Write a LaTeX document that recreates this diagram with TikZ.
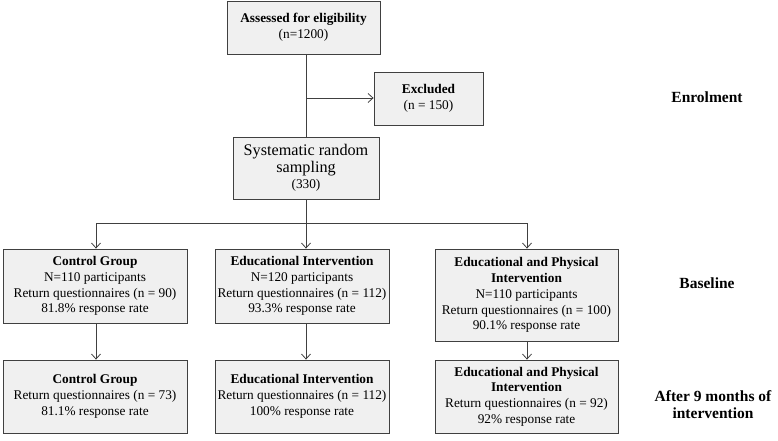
\documentclass[tikz,border=0pt]{standalone}
\usepackage{fontspec}
\setmainfont{Liberation Serif}
\usetikzlibrary{arrows.meta}
\begin{document}
\begin{tikzpicture}[x=1pt,y=-1pt,
  box/.style={draw=black!75, fill=black!6, line width=0.8pt, align=center, inner sep=1pt,
    font=\fontsize{13.3}{15.8}\selectfont},
  lbl/.style={align=center, font=\fontsize{15.5}{17}\selectfont\bfseries},
  ln/.style={draw=black!75, line width=0.8pt},
  arr/.style={ln, -{Straight Barb[length=5pt,width=9pt]}}]
\useasboundingbox (0,0) rectangle (778,441);
\node[box, minimum width=153pt, minimum height=53pt] (top) at (303.5,27.5)
  {\textbf{Assessed for eligibility}\\(n=1200)};
\node[box, minimum width=109pt, minimum height=53pt] (exc) at (428.5,98.5)
  {\textbf{Excluded}\\(n = 150)};
\node[box, minimum width=146pt, minimum height=62pt, font=\fontsize{16.2}{16.5}\selectfont] (sys) at (306,168)
  {Systematic random\\sampling\\\fontsize{13.3}{16}\selectfont(330)};
\node[box, minimum width=184pt, minimum height=74pt] (c1) at (95,286)
  {\textbf{Control Group}\\N=110 participants\\Return questionnaires (n = 90)\\81.8\% response rate};
\node[box, minimum width=174pt, minimum height=74pt] (e1) at (302,286)
  {\textbf{Educational Intervention}\\N=120 participants\\Return questionnaires (n = 112)\\93.3\% response rate};
\node[box, minimum width=183pt, minimum height=92pt] (p1) at (526.5,295)
  {\textbf{Educational and Physical}\\\textbf{Intervention}\\N=110 participants\\Return questionnaires (n = 100)\\90.1\% response rate};
\node[box, minimum width=184pt, minimum height=73pt] (c2) at (95,396.5)
  {\textbf{Control Group}\\Return questionnaires (n = 73)\\81.1\% response rate};
\node[box, minimum width=174pt, minimum height=73pt] (e2) at (302,396.5)
  {\textbf{Educational Intervention}\\Return questionnaires (n = 112)\\100\% response rate};
\node[box, minimum width=183pt, minimum height=73pt] (p2) at (526.5,396.5)
  {\textbf{Educational and Physical}\\\textbf{Intervention}\\Return questionnaires (n = 92)\\92\% response rate};
\node[lbl] (l1) at (707,97) {Enrolment};
\node[lbl] (l2) at (707,283) {Baseline};
\node[lbl] (l3) at (713,405) {After 9 months of\\intervention};
\coordinate (a1) at (306,54);
\coordinate (br) at (306,98);
\coordinate (split) at (306,223);
\coordinate (sc) at (96,223);
\coordinate (sp) at (527,223);
\draw[ln] (a1) -- (a1 |- sys.north);
\draw[arr] (br) -- (exc.west |- br);
\draw[ln] (split |- sys.south) -- (split);
\draw[ln] (sc) -- (sp);
\draw[arr] (sc) -- (sc |- c1.north);
\draw[arr] (split) -- (split |- e1.north);
\draw[arr] (sp) -- (sp |- p1.north);
\draw[arr] (sc |- c1.south) -- (sc |- c2.north);
\draw[arr] (split |- e1.south) -- (split |- e2.north);
\draw[arr] (sp |- p1.south) -- (sp |- p2.north);
\end{tikzpicture}
\end{document}
